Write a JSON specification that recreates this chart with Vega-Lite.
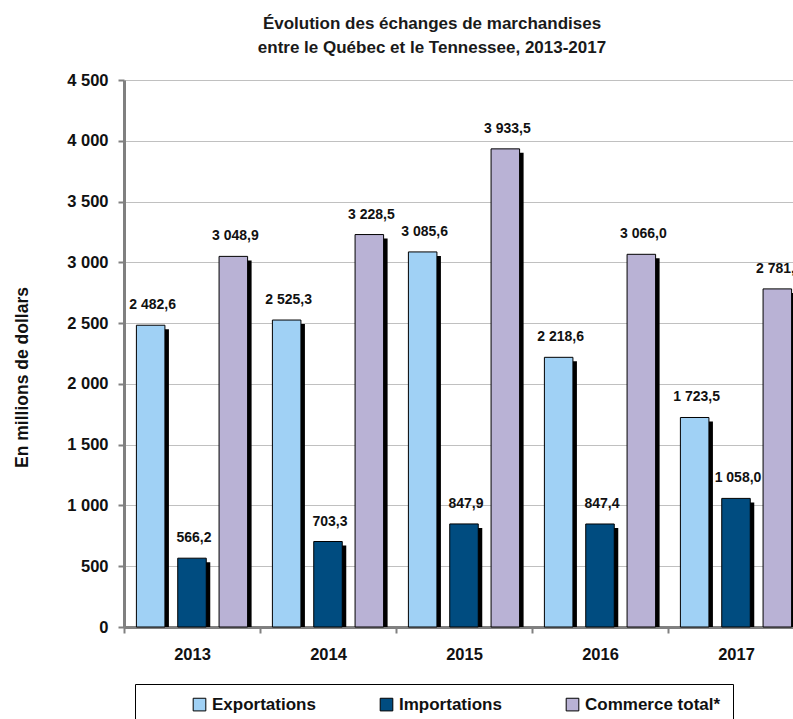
{
  "$schema": "https://vega.github.io/schema/vega-lite/v6.json",
  "autosize": "none",
  "width": 680,
  "height": 547,
  "padding": {"left": 124, "top": 80, "right": 0, "bottom": 92},
  "config": {
    "locale": {"number": {"decimal": ",", "thousands": " ", "grouping": [3], "currency": ["", " $"]}},
    "font": "Liberation Sans",
    "view": {"stroke": null}
  },
  "title": {
    "text": ["Évolution des échanges de marchandises", "entre le Québec et le Tennessee, 2013-2017"],
    "font": "Liberation Sans",
    "fontSize": 17,
    "fontWeight": "bold",
    "color": "#1a1a1a",
    "lineHeight": 24,
    "anchor": "middle",
    "frame": "group",
    "dx": -32,
    "offset": 15
  },
  "data": {
    "values": [
      {"annee": "2013", "serie": "Exportations", "valeur": 2482.6},
      {"annee": "2013", "serie": "Importations", "valeur": 566.2},
      {"annee": "2013", "serie": "Commerce total*", "valeur": 3048.9},
      {"annee": "2014", "serie": "Exportations", "valeur": 2525.3},
      {"annee": "2014", "serie": "Importations", "valeur": 703.3},
      {"annee": "2014", "serie": "Commerce total*", "valeur": 3228.5},
      {"annee": "2015", "serie": "Exportations", "valeur": 3085.6},
      {"annee": "2015", "serie": "Importations", "valeur": 847.9},
      {"annee": "2015", "serie": "Commerce total*", "valeur": 3933.5},
      {"annee": "2016", "serie": "Exportations", "valeur": 2218.6},
      {"annee": "2016", "serie": "Importations", "valeur": 847.4},
      {"annee": "2016", "serie": "Commerce total*", "valeur": 3066.0},
      {"annee": "2017", "serie": "Exportations", "valeur": 1723.5},
      {"annee": "2017", "serie": "Importations", "valeur": 1058.0},
      {"annee": "2017", "serie": "Commerce total*", "valeur": 2781.5}
    ]
  },
  "encoding": {
    "x": {
      "field": "annee", "type": "nominal",
      "scale": {"paddingInner": 0, "paddingOuter": 0},
      "axis": {
        "title": null, "labelAngle": 0, "labelFontSize": 16.5, "labelFontWeight": "bold", "labelColor": "#111",
        "labelPadding": 13, "tickBand": "extent", "tickSize": 6, "tickColor": "#808080", "tickWidth": 2,
        "domainColor": "#808080", "domainWidth": 3, "grid": false
      }
    },
    "y": {
      "field": "valeur", "type": "quantitative",
      "scale": {"domain": [0, 4500], "nice": false},
      "axis": {
        "title": "En millions de dollars", "titleFontSize": 17.5, "titleFontWeight": "bold", "titleColor": "#111",
        "titleX": -102, "titleY": 297, "titleAngle": -90, "titleAlign": "center", "titleBaseline": "middle",
        "values": [0, 500, 1000, 1500, 2000, 2500, 3000, 3500, 4000, 4500],
        "format": ",d", "labelFontSize": 16.5, "labelFontWeight": "bold", "labelColor": "#111", "labelPadding": 10,
        "tickSize": 6, "tickColor": "#808080", "tickWidth": 2, "domainColor": "#808080", "domainWidth": 3,
        "grid": true, "gridColor": "#c0c0c0", "gridWidth": 1
      }
    }
  },
  "layer": [
    {
      "mark": {"type": "bar", "color": "#000000", "yOffset": 4, "clip": true},
      "encoding": {
        "xOffset": {
          "field": "serie", "type": "nominal",
          "sort": ["Exportations", "Importations", "Commerce total*"],
          "scale": {"paddingInner": 0.31, "paddingOuter": 0.3, "range": [4, 140]}
        }
      }
    },
    {
      "mark": {"type": "bar", "stroke": "#000000", "strokeWidth": 1},
      "encoding": {
        "xOffset": {
          "field": "serie", "type": "nominal",
          "sort": ["Exportations", "Importations", "Commerce total*"],
          "scale": {"paddingInner": 0.31, "paddingOuter": 0.3}
        },
        "color": {
          "field": "serie", "type": "nominal",
          "sort": ["Exportations", "Importations", "Commerce total*"],
          "scale": {"domain": ["Exportations", "Importations", "Commerce total*"], "range": ["#a0d1f5", "#004c80", "#b9b2d5"]},
          "legend": {
            "title": "\u00a0", "titleOrient": "left", "titlePadding": 44, "titleFontSize": 17,
            "orient": "none", "legendX": 11, "legendY": 604, "direction": "horizontal",
            "columns": 3, "gridAlign": "each", "columnPadding": 62,
            "labelExpr": "datum.label == 'Commerce total*' ? datum.label + '\u00a0\u00a0\u00a0\u00a0\u00a0\u00a0\u00a0\u00a0\u00a0\u00a0\u00a0' : datum.label",
            "symbolType": "square", "symbolSize": 160, "symbolStrokeColor": "#000", "symbolStrokeWidth": 1,
            "labelFontSize": 17, "labelFontWeight": "bold", "labelColor": "#111", "labelOffset": 4, "labelLimit": 300,
            "strokeColor": "#000", "padding": 12, "fillColor": "#ffffff"
          }
        }
      }
    },
    {
      "mark": {"type": "text", "fontSize": 14, "fontWeight": "bold", "color": "#111", "baseline": "alphabetic", "dy": -16, "dx": 2},
      "encoding": {
        "xOffset": {
          "field": "serie", "type": "nominal",
          "sort": ["Exportations", "Importations", "Commerce total*"],
          "scale": {"type": "band", "paddingInner": 0.31, "paddingOuter": 0.3}
        },
        "text": {"field": "valeur", "type": "quantitative", "format": ",.1f"}
      }
    }
  ],
  "resolve": {"scale": {"xOffset": "independent"}}
}
